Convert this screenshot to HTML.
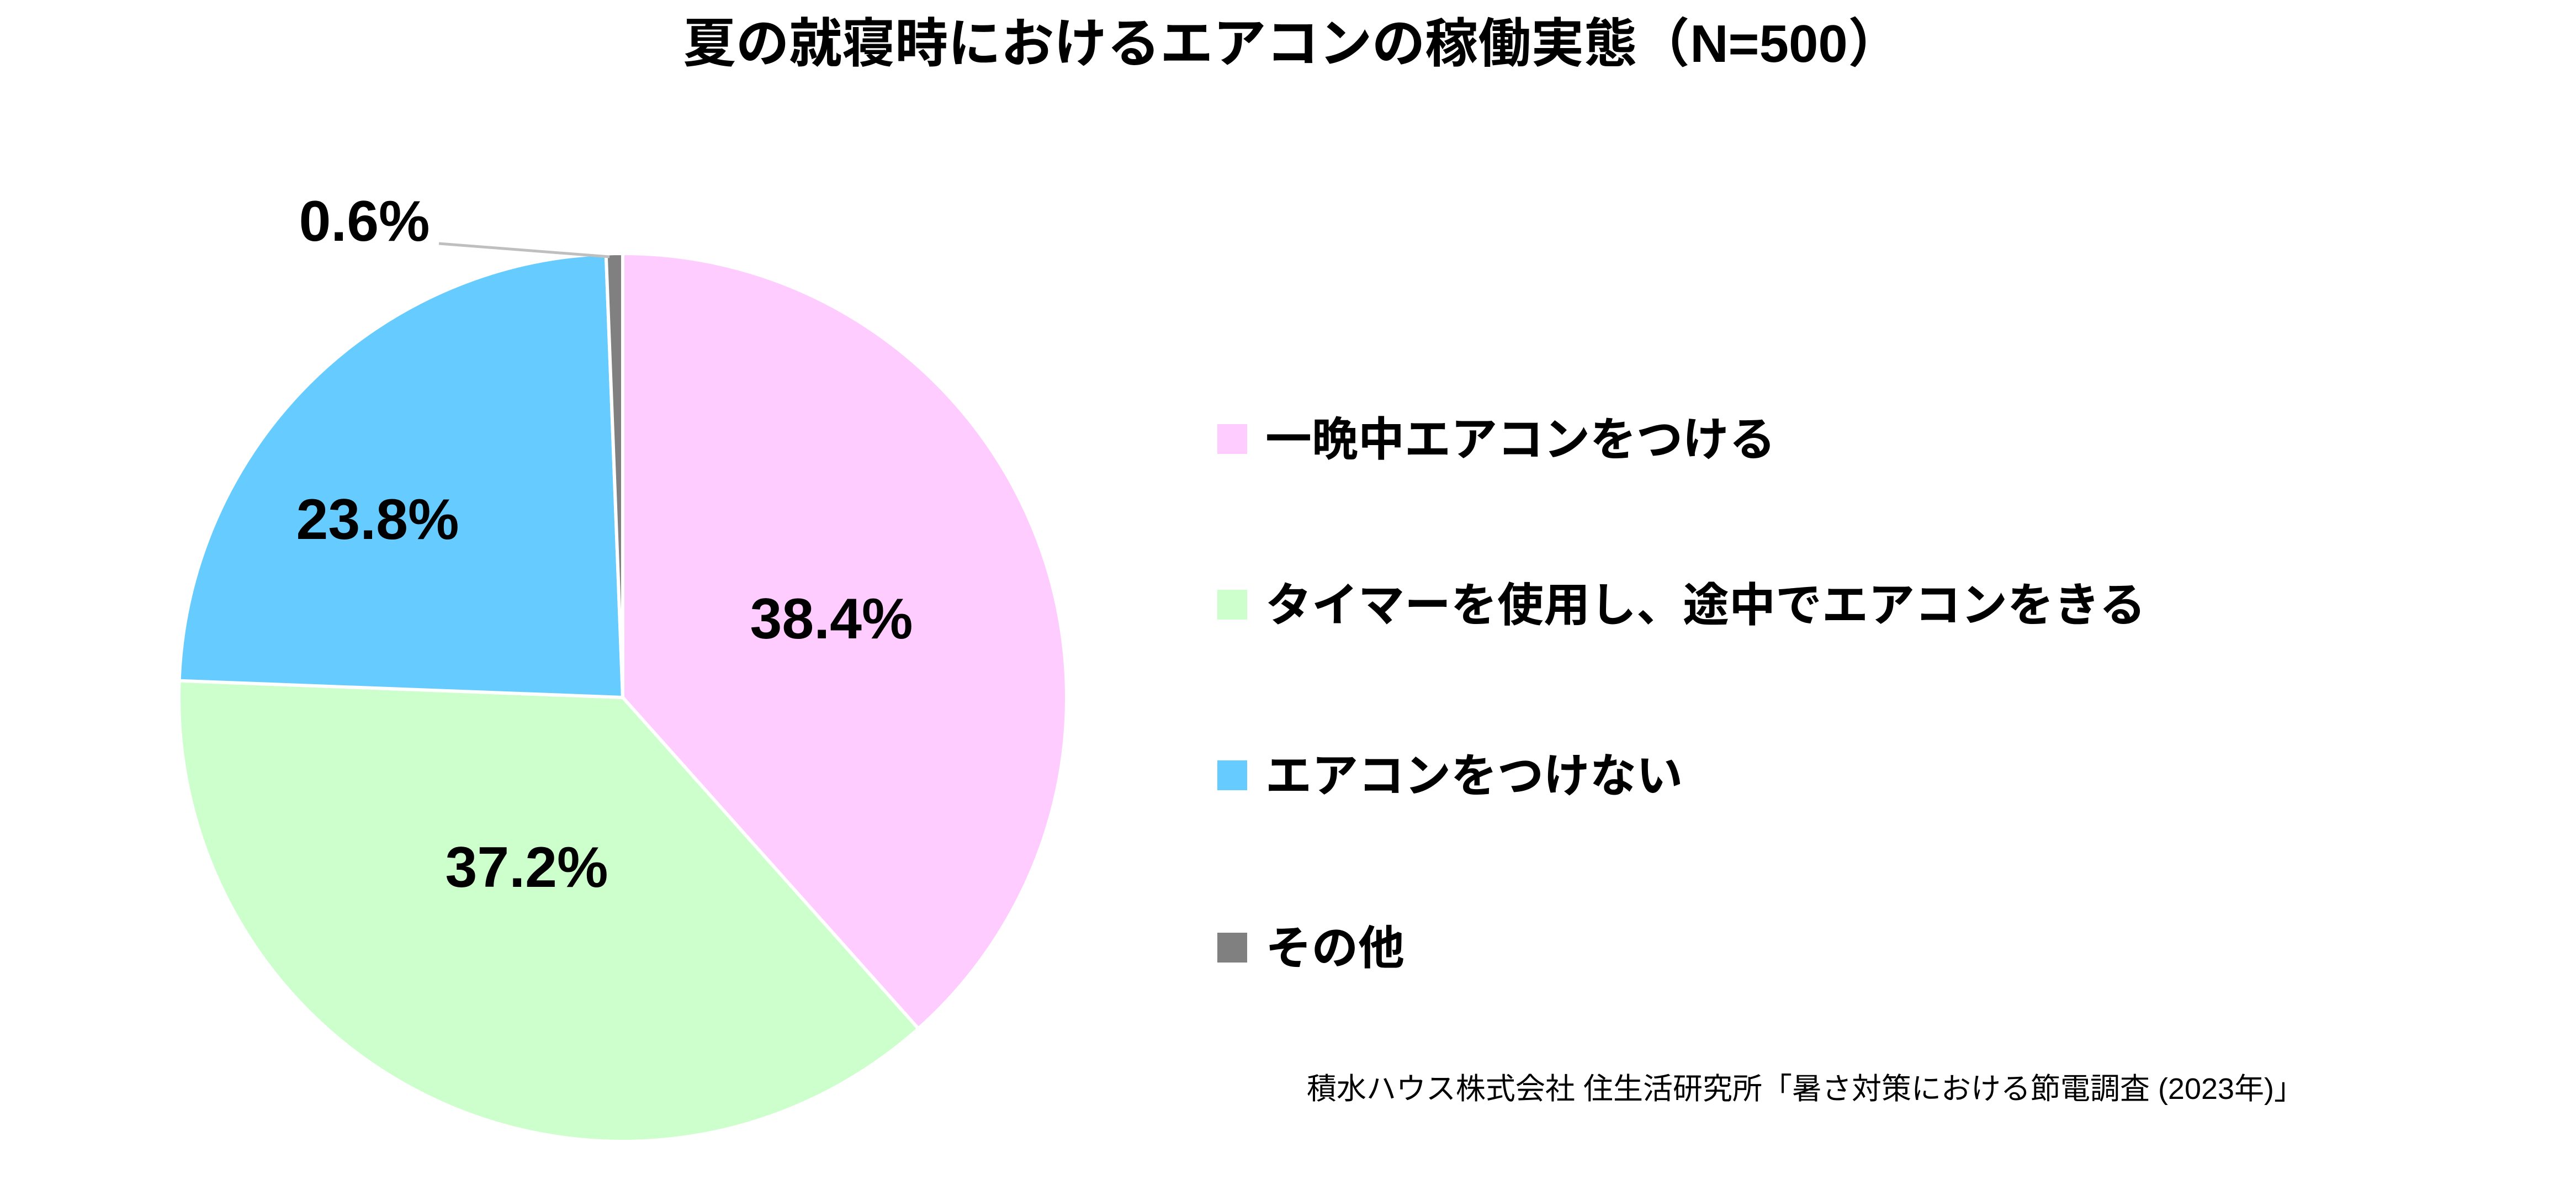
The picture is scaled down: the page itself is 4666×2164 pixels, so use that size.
<!DOCTYPE html>
<html><head><meta charset="utf-8">
<style>
body{margin:0;width:4666px;height:2164px;background:#fff;overflow:hidden;font-family:"Liberation Sans","Noto Sans CJK JP",sans-serif;}
svg{position:absolute;left:0;top:0}
</style></head>
<body>
<svg width="4666" height="2164">
<text x="2340" y="112" text-anchor="middle" font-size="96" font-weight="bold" font-family="Liberation Sans, Noto Sans CJK JP, sans-serif">夏の就寝時におけるエアコンの稼働実態（N=500）</text>
<g id="slices"></g>
<line x1="795" y1="441" x2="1104" y2="465" stroke="#bfbfbf" stroke-width="5"/>
<g id="labels"></g>
<g id="legend"></g>
<text x="3270" y="1990" text-anchor="middle" font-size="54" font-family="Liberation Sans, Noto Sans CJK JP, sans-serif">積水ハウス株式会社 住生活研究所「暑さ対策における節電調査 (2023年)」</text>
</svg>
<script>
const categories=["一晩中エアコンをつける","タイマーを使用し、途中でエアコンをきる","エアコンをつけない","その他"];
const values=[38.4,37.2,23.8,0.6];
const colors=["#FFCCFF","#CCFFCC","#66CCFF","#808080"];
const labelPos=[[1506,1120],[954,1570],[684,940],[660,400]];
const NS="http://www.w3.org/2000/svg";
const cx=1128,cy=1263,r=804;
const total=values.reduce((a,b)=>a+b,0);
let a0=0;
const gs=document.getElementById('slices'),gl=document.getElementById('labels'),gg=document.getElementById('legend');
values.forEach((v,i)=>{
 const a1=a0+v/total*2*Math.PI;
 const x0=cx+r*Math.sin(a0),y0=cy-r*Math.cos(a0),x1=cx+r*Math.sin(a1),y1=cy-r*Math.cos(a1);
 const p=document.createElementNS(NS,'path');
 p.setAttribute('d',`M${cx},${cy}L${x0},${y0}A${r},${r} 0 ${(a1-a0)>Math.PI?1:0} 1 ${x1},${y1}Z`);
 p.setAttribute('fill',colors[i]);p.setAttribute('stroke','#fff');p.setAttribute('stroke-width','6');
 
 
 gs.appendChild(p);
 const t=document.createElementNS(NS,'text');
 t.setAttribute('x',labelPos[i][0]);t.setAttribute('y',labelPos[i][1]+36);
 t.setAttribute('text-anchor','middle');t.setAttribute('font-size','104');t.setAttribute('font-weight','bold');
 t.textContent=v.toFixed(1)+'%';
 
 
 gl.appendChild(t);
 const ly=[795,1095,1404,1716][i];
 const sq=document.createElementNS(NS,'rect');
 sq.setAttribute('x',2205);sq.setAttribute('y',ly-27);sq.setAttribute('width',54);sq.setAttribute('height',54);sq.setAttribute('fill',colors[i]);
 
 
 gg.appendChild(sq);
 const lt=document.createElementNS(NS,'text');
 lt.setAttribute('x',2292);lt.setAttribute('y',ly+30);lt.setAttribute('font-size','84');lt.setAttribute('font-weight','bold');
 lt.setAttribute('font-family','Liberation Sans, Noto Sans CJK JP, sans-serif');
 lt.textContent=categories[i];
 
 
 gg.appendChild(lt);
 a0=a1;
});
</script>
</body></html>
